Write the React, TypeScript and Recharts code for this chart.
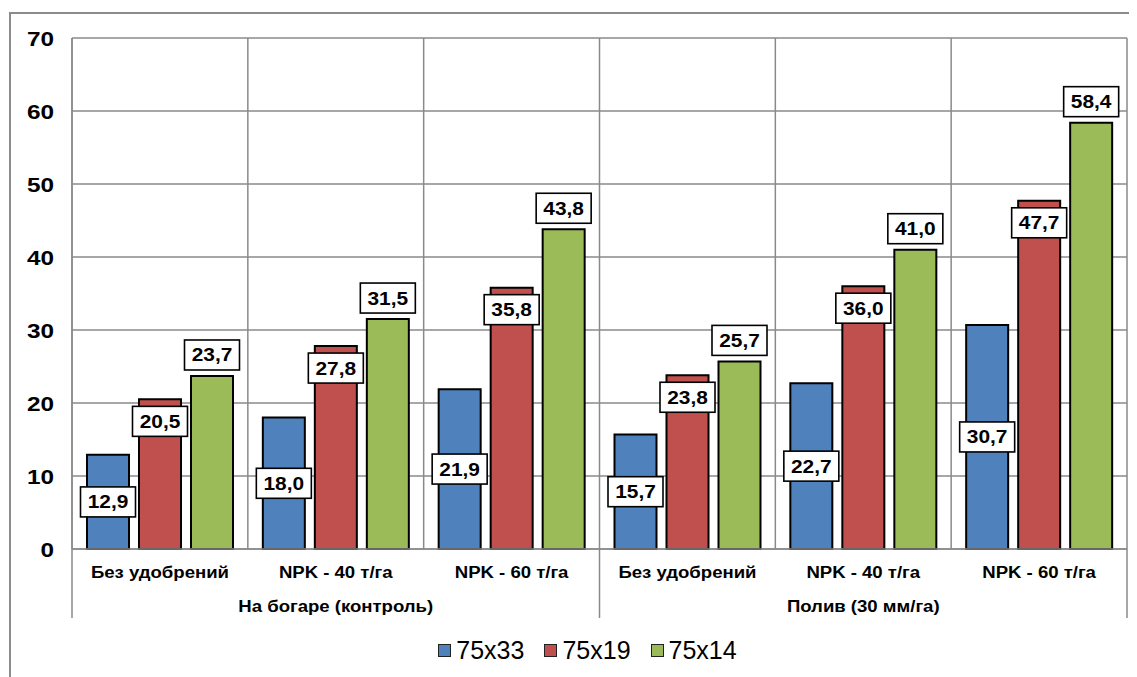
import React from 'react';
import { BarChart, Bar, XAxis, YAxis, CartesianGrid, LabelList, Legend } from 'recharts';

const categories = ['Без удобрений', 'NPK - 40 т/га', 'NPK - 60 т/га', 'Без удобрений', 'NPK - 40 т/га', 'NPK - 60 т/га'];
const groupLabels: Record<number, string> = { 1: 'На богаре (контроль)', 4: 'Полив (30 мм/га)' };
const seriesNames = ['75x33', '75x19', '75x14'];
const s75x33 = [12.9, 18.0, 21.9, 15.7, 22.7, 30.7];
const s75x19 = [20.5, 27.8, 35.8, 23.8, 36.0, 47.7];
const s75x14 = [23.7, 31.5, 43.8, 25.7, 41.0, 58.4];
const yTicks = [0, 10, 20, 30, 40, 50, 60, 70];
const colors = ['#4F81BD', '#C0504D', '#9BBB59'];

const data = categories.map((c, i) => ({
  id: 'c' + i,
  a: s75x33[i],
  b: s75x19[i],
  c: s75x14[i],
}));

const W = 1129;
const H = 669;
const MARGIN = { top: 30, right: 10, bottom: 60, left: 0 };
const Y_W = 64;
const CAT_W = (W - MARGIN.left - MARGIN.right - Y_W) / categories.length;
const GRID = '#8a8a8a';
const STRETCH = 1.16;

const fmt = (v: number) => v.toFixed(1).replace('.', ',');

const BoldText = ({ x, y, anchor = 'middle', size, children, baseline }: any) => (
  <g transform={`translate(${x},${y}) scale(${STRETCH},1)`}>
    <text x={0} y={0} textAnchor={anchor} dominantBaseline={baseline} fontSize={size} fontWeight="bold" fill="#000">
      {children}
    </text>
  </g>
);

const makeLabel = (mode: 'center' | 'inside' | 'outside') => (props: any) => {
  const vb = props.viewBox || props;
  const x = Number(vb.x), y = Number(vb.y), w = Number(vb.width), h = Number(vb.height);
  const cx = x + w / 2;
  let cy = y + h / 2;
  if (mode === 'inside') cy = y + 22;
  if (mode === 'outside') cy = y - 21;
  const bw = 55, bh = 30;
  return (
    <g>
      <rect x={cx - bw / 2} y={cy - bh / 2} width={bw} height={bh} fill="#fff" stroke="#000" strokeWidth={1.6} />
      <BoldText x={cx} y={cy + 6.5} size={18}>
        {fmt(Number(props.value))}
      </BoldText>
    </g>
  );
};

const CatTick = (props: any) => {
  const { x, y, payload } = props;
  const i = Number(String(payload.value).slice(1));
  const top = y - 8;
  const lines: number[] = [];
  if (i === 0 || i === 3) lines.push(x - CAT_W / 2);
  if (i === 5) lines.push(x + CAT_W / 2);
  return (
    <g>
      {lines.map((lx, k) => (
        <line key={k} x1={lx} x2={lx} y1={top} y2={top + 69} stroke={GRID} strokeWidth={1.5} />
      ))}
      <BoldText x={x} y={y + 21} size={16}>
        {categories[i]}
      </BoldText>
    </g>
  );
};

const GroupTick = (props: any) => {
  const { x, y, payload } = props;
  const i = Number(String(payload.value).slice(1));
  const label = groupLabels[i];
  if (!label) return <g />;
  return (
    <BoldText x={x} y={y + 21} size={16}>
      {label}
    </BoldText>
  );
};

const YTick = (props: any) => {
  const { x, y, payload } = props;
  return (
    <BoldText x={x} y={y + 7.5} anchor="end" size={21}>
      {payload.value}
    </BoldText>
  );
};

const LegendContent = () => (
  <div style={{ display: 'flex', justifyContent: 'center', alignItems: 'center', height: 30, paddingLeft: 30 }}>
    {seriesNames.map((n, i) => (
      <div key={n} style={{ display: 'flex', alignItems: 'center', marginRight: i < 2 ? 20 : 0 }}>
        <span style={{ display: 'inline-block', width: 11, height: 11, background: colors[i], border: '1px solid #222', marginRight: 5 }} />
        <span style={{ fontSize: 25, color: '#000', lineHeight: '30px' }}>{n}</span>
      </div>
    ))}
  </div>
);

export default function App() {
  return (
    <div style={{ position: 'relative', width: W, height: H, overflow: 'hidden', fontFamily: '"Liberation Sans", Arial, sans-serif' }}>
      <div style={{ position: 'absolute', left: 1, top: 4, width: 1125, height: 720, border: '2px solid #8c8c8c', boxSizing: 'border-box' }} />
      <div style={{ position: 'absolute', left: 0, top: 0 }}>
        <BarChart width={W} height={H} data={data} margin={MARGIN} barSize={42} barGap={10}>
          <CartesianGrid
            stroke={GRID}
            strokeWidth={1.5}
            verticalCoordinatesGenerator={({ offset }: any) =>
              categories.map((_, i) => offset.left + (i * offset.width) / categories.length).concat([offset.left + offset.width])
            }
          />
          <XAxis dataKey="id" tick={<CatTick />} tickLine={false} axisLine={{ stroke: GRID, strokeWidth: 1.5 }} height={34} interval={0} />
          <XAxis xAxisId="grp" dataKey="id" tick={<GroupTick />} tickLine={false} axisLine={false} height={34} interval={0} />
          <YAxis
            domain={[0, 70]}
            ticks={yTicks}
            width={Y_W}
            tickLine={false}
            tickMargin={12}
            tick={<YTick />}
            axisLine={{ stroke: GRID, strokeWidth: 1.5 }}
          />
          <Legend verticalAlign="middle" align="center" content={<LegendContent />} wrapperStyle={{ top: 627, left: 0, width: W }} />
          <Bar dataKey="a" name={seriesNames[0]} fill={colors[0]} stroke="#000" strokeWidth={2} isAnimationActive={false}>
            <LabelList dataKey="a" content={makeLabel('center')} />
          </Bar>
          <Bar dataKey="b" name={seriesNames[1]} fill={colors[1]} stroke="#000" strokeWidth={2} isAnimationActive={false}>
            <LabelList dataKey="b" content={makeLabel('inside')} />
          </Bar>
          <Bar dataKey="c" name={seriesNames[2]} fill={colors[2]} stroke="#000" strokeWidth={2} isAnimationActive={false}>
            <LabelList dataKey="c" content={makeLabel('outside')} />
          </Bar>
        </BarChart>
      </div>
    </div>
  );
}
